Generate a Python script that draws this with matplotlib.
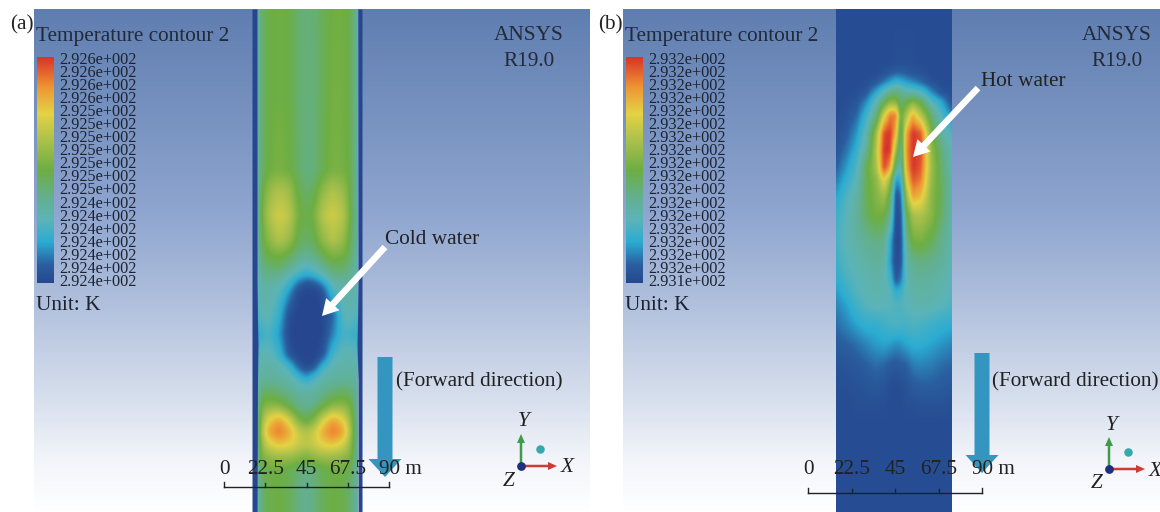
import numpy as np
import matplotlib
matplotlib.use("Agg")
import matplotlib.pyplot as plt
from matplotlib.colors import LinearSegmentedColormap
from matplotlib.patches import Rectangle

plt.rcParams['font.family'] = ['Liberation Serif', 'DejaVu Serif']

# colorbar labels
labels_a = ["2.926e+002"] * 4 + ["2.925e+002"] * 7 + ["2.924e+002"] * 7
labels_b = ["2.932e+002"] * 17 + ["2.931e+002"]
tick_labels = ["0", "22.5", "45", "67.5"]

# sample positions of the two fields (image pixels), values are 0-1 on the colour scale
x_a = [257, 260, 268, 279, 290, 298, 306, 314, 322, 333, 344, 352, 358]
y_a = [9, 100, 170, 190, 215, 240, 258, 270, 278, 285, 295, 315, 335, 355, 365, 372, 380, 392, 405, 420, 432, 445,
       458, 470, 490, 512]
field_a = [
    [.30, .43, .49, .51, .49, .43, .41, .42, .46, .51, .51, .47, .32],
    [.30, .43, .49, .51, .49, .43, .41, .41, .46, .52, .51, .47, .32],
    [.30, .43, .50, .53, .50, .44, .40, .41, .47, .53, .52, .47, .32],
    [.30, .46, .58, .64, .60, .48, .43, .46, .57, .64, .59, .47, .32],
    [.30, .48, .64, .71, .66, .52, .48, .52, .65, .71, .65, .48, .32],
    [.30, .46, .56, .65, .59, .47, .44, .47, .57, .65, .59, .45, .32],
    [.28, .42, .48, .50, .44, .38, .35, .38, .44, .52, .50, .42, .30],
    [.26, .38, .41, .42, .35, .28, .24, .27, .33, .43, .42, .38, .30],
    [.26, .36, .37, .35, .26, .18, .14, .16, .24, .36, .38, .35, .30],
    [.25, .33, .33, .30, .20, .08, .02, .03, .10, .28, .33, .33, .28],
    [.25, .32, .32, .26, .12, .01, .00, .00, .02, .22, .32, .32, .28],
    [.24, .28, .30, .20, .02, .00, .00, .00, .00, .08, .28, .30, .25],
    [.20, .20, .25, .16, .00, .00, .00, .00, .00, .13, .24, .22, .20],
    [.25, .30, .30, .22, .04, .00, .00, .00, .03, .24, .30, .30, .27],
    [.28, .32, .33, .30, .20, .06, .00, .02, .18, .30, .32, .32, .30],
    [.30, .33, .34, .32, .27, .16, .08, .14, .26, .32, .33, .33, .32],
    [.32, .35, .36, .35, .32, .26, .20, .26, .32, .35, .36, .35, .32],
    [.32, .42, .45, .42, .37, .34, .33, .34, .37, .42, .45, .42, .33],
    [.32, .50, .56, .54, .45, .38, .36, .38, .45, .55, .56, .50, .33],
    [.32, .56, .75, .84, .70, .54, .47, .54, .70, .84, .75, .56, .33],
    [.32, .60, .84, .92, .82, .70, .64, .70, .82, .92, .84, .60, .33],
    [.32, .56, .71, .78, .75, .70, .67, .70, .75, .78, .71, .56, .33],
    [.32, .52, .57, .59, .59, .57, .52, .57, .59, .59, .57, .52, .33],
    [.32, .46, .50, .50, .47, .42, .40, .42, .47, .50, .50, .46, .33],
    [.28, .42, .48, .50, .46, .40, .37, .40, .46, .50, .48, .42, .32],
    [.28, .42, .48, .50, .46, .40, .37, .40, .46, .50, .48, .42, .32],
]

x_b = [836, 846, 856, 866, 876, 884, 890, 896, 901, 906, 913, 921, 932, 942, 952]
y_b = [9, 62, 72, 82, 92, 102, 115, 133, 150, 167, 180, 195, 215, 240, 262, 280, 292, 305, 325, 345, 365, 385, 405,
       425, 512]
field_b = [
    [.02, .02, .02, .02, .02, .02, .02, .02, .02, .02, .02, .02, .02, .02, .02],
    [.02, .02, .02, .02, .02, .02, .02, .03, .03, .03, .03, .02, .02, .02, .02],
    [.02, .02, .02, .02, .02, .04, .06, .08, .08, .07, .05, .04, .02, .02, .02],
    [.02, .02, .02, .03, .06, .12, .17, .22, .20, .17, .14, .10, .04, .02, .02],
    [.02, .02, .03, .06, .18, .30, .38, .42, .38, .32, .32, .27, .14, .05, .03],
    [.02, .03, .05, .14, .30, .46, .58, .56, .42, .48, .56, .47, .28, .18, .05],
    [.02, .04, .09, .22, .40, .72, .90, .90, .48, .62, .82, .66, .42, .26, .14],
    [.03, .07, .15, .30, .60, .97, 1.0, .80, .38, .82, 1.0, .95, .52, .34, .25],
    [.05, .11, .20, .36, .65, 1.0, 1.0, .60, .34, .85, 1.0, .97, .58, .40, .30],
    [.08, .16, .25, .47, .62, .98, .85, .40, .28, .82, 1.0, .95, .60, .44, .30],
    [.12, .20, .28, .47, .57, .75, .60, .15, .20, .72, .95, .90, .58, .45, .32],
    [.17, .25, .32, .47, .55, .62, .48, .04, .10, .58, .85, .80, .56, .46, .32],
    [.22, .28, .35, .45, .52, .50, .38, .02, .05, .45, .62, .64, .56, .44, .32],
    [.24, .29, .33, .37, .40, .38, .20, .01, .03, .36, .52, .53, .47, .38, .31],
    [.22, .27, .30, .33, .35, .33, .17, .02, .05, .30, .38, .40, .38, .35, .30],
    [.19, .24, .28, .30, .32, .30, .24, .06, .12, .28, .34, .35, .34, .32, .28],
    [.16, .21, .26, .29, .31, .30, .28, .20, .22, .29, .32, .33, .32, .30, .27],
    [.13, .17, .23, .27, .29, .28, .28, .26, .26, .28, .30, .31, .30, .28, .25],
    [.10, .13, .17, .20, .20, .22, .24, .25, .24, .24, .25, .24, .22, .20, .19],
    [.07, .08, .10, .13, .16, .17, .16, .14, .15, .17, .19, .19, .17, .15, .13],
    [.04, .05, .06, .08, .10, .09, .07, .06, .07, .08, .12, .13, .12, .10, .09],
    [.03, .03, .04, .05, .06, .05, .03, .02, .03, .04, .07, .08, .08, .07, .06],
    [.02, .02, .03, .03, .03, .03, .02, .02, .02, .03, .03, .04, .04, .04, .03],
    [.02, .02, .02, .02, .02, .02, .02, .02, .02, .02, .02, .02, .02, .02, .02],
    [.02, .02, .02, .02, .02, .02, .02, .02, .02, .02, .02, .02, .02, .02, .02],
]

# ansys rainbow
cmap = LinearSegmentedColormap.from_list("ansys", [
    (0.00, "#26478f"), (0.08, "#2a5fa0"), (0.18, "#2bacd2"), (0.28, "#5cb4b8"),
    (0.38, "#63b08e"), (0.50, "#6dae42"), (0.62, "#a6bf4c"), (0.75, "#e4d344"),
    (0.87, "#ee9433"), (1.00, "#d8342a"),
])
bg_cmap = LinearSegmentedColormap.from_list("bg", [
    (0.00, "#5f7eb0"), (0.40, "#8ea5cf"), (0.58, "#afbfdc"), (0.78, "#d8e0ee"),
    (0.90, "#f3f5fa"), (1.00, "#ffffff"),
])

fig = plt.figure(figsize=(11.6, 5.12), dpi=100)
ax = fig.add_axes([0, 0, 1, 1])
grad = np.linspace(0, 1, 256).reshape(-1, 1)
FS = 15.3
DARK = "#222a38"


def smooth(a, n):
    # small box blur down each column
    k = np.ones(n) / n
    p = np.pad(a, ((n, n), (0, 0)), mode='edge')
    return np.apply_along_axis(lambda c: np.convolve(c, k, mode='same'), 0, p)[n:-n]


def fine_field(xs, ys, field, blur):
    # samples sit on an uneven grid, so put them on a pixel grid before imshow
    field = np.array(field)
    px = np.arange(xs[0], xs[-1] + 1)
    py = np.arange(ys[0], ys[-1] + 1)
    tmp = np.array([np.interp(py, ys, field[:, j]) for j in range(field.shape[1])]).T
    out = np.array([np.interp(px, xs, tmp[i]) for i in range(tmp.shape[0])])
    out = smooth(smooth(out, blur[0]), blur[1])
    out = smooth(smooth(out.T, blur[2]), blur[3]).T
    return out


def panel(x0, x1, xs, ys, field, blur, strip0, strip1, labels, letter, letter_x, hot_text, hot_xy, arrow_xy, arr_x, arr_top, bar, origin):
    ax.imshow(grad, extent=(x0, x1, 512, 9), cmap=bg_cmap, aspect='auto', zorder=0)

    im = ax.imshow(fine_field(xs, ys, field, blur), extent=(xs[0], xs[-1], ys[-1], ys[0]), cmap=cmap, vmin=0, vmax=1,
                   aspect='auto', interpolation='bilinear', zorder=1)
    im.set_clip_path(Rectangle((strip0, 9), strip1 - strip0, 503, transform=ax.transData))

    # legend
    ax.text(x0 + 2, 37, "Temperature contour 2", fontsize=FS, va='center', color=DARK)
    ax.imshow(grad[::-1], extent=(x0 + 2.5, x0 + 19.5, 283, 57), cmap=cmap, aspect='auto', zorder=2)
    for i in range(len(labels)):
        ax.text(x0 + 25.5, 60 + i * 13.05, labels[i], fontsize=11.7, va='center', color="#1c2230", zorder=3)
    ax.text(x0 + 2, 306, "Unit: K", fontsize=FS, va='center', color="#1c2230")
    ax.text(letter_x, 25, letter, fontsize=FS, va='center', color="#222222")

    ax.text(origin[0] + 8, 35, "ANSYS", fontsize=FS, ha='center', va='center', color=DARK)
    ax.text(origin[0] + 8, 62, "R19.0", fontsize=FS, ha='center', va='center', color=DARK)

    # callout
    ax.text(hot_xy[0], hot_xy[1], hot_text, fontsize=FS, va='center', color="#222222", zorder=5)
    ax.arrow(arrow_xy[0], arrow_xy[1], arrow_xy[2] - arrow_xy[0], arrow_xy[3] - arrow_xy[1], width=6.5, head_width=18,
             head_length=16, length_includes_head=True, fc="white", ec="none", zorder=4)

    # forward direction
    ax.arrow(arr_x, arr_top, 0, 120, width=15, head_width=33, head_length=18, length_includes_head=True,
             fc="#3496c0", ec="none", zorder=2)
    ax.text(arr_x + 10.5, 382, "(Forward direction)", fontsize=FS, va='center', color="#222222", zorder=5)

    # scale bar
    y = bar[1]
    ticks = np.linspace(bar[0], bar[2], 5)
    ax.plot([bar[0], bar[2]], [y, y], color="#222222", lw=1, zorder=5)
    for i in range(5):
        h = 5 if i in (0, 4) else 4
        ax.plot([ticks[i], ticks[i]], [y, y - h], color="#222222", lw=1, zorder=5)
    for i in range(4):
        ax.text(ticks[i], 470, tick_labels[i], fontsize=FS, ha='center', va='center', color="#222222", zorder=5)
    ax.text(ticks[4] - 10, 470, "90 m", fontsize=FS, ha='left', va='center', color="#222222", zorder=5)

    # triad
    ox, oy = origin
    ax.arrow(ox, oy, 0, -32, width=2.5, head_width=8, head_length=9, length_includes_head=True, fc="#3f9a4a", ec="none", zorder=3)
    ax.arrow(ox, oy, 36, 0, width=2.5, head_width=8, head_length=9, length_includes_head=True, fc="#d03a34", ec="none", zorder=3)
    ax.scatter([ox], [oy], s=28, color="#1f2f80", zorder=4)
    ax.scatter([ox + 18.5], [oy - 17], s=26, color="#35a8ae", zorder=4)
    ax.text(ox + 3, oy - 44, "Y", fontsize=FS, style='italic', ha='center', va='center', color="#222222")
    ax.text(ox + 46, oy + 2, "X", fontsize=FS, style='italic', ha='center', va='center', color="#222222")
    ax.text(ox - 12, oy + 15, "Z", fontsize=FS, style='italic', ha='center', va='center', color="#222222")


panel(34, 590, x_a, y_a, field_a, (9, 7, 7, 5), 252, 362, labels_a, "(a)", 10, "Cold water", (385, 240), (385, 247, 322, 316),
      385, 357, (224, 487, 389), (521, 466))
panel(623, 1160, x_b, y_b, field_b, (5, 3, 3, 3), 836, 952, labels_b, "(b)", 598, "Hot water", (981, 82), (978, 88, 913, 157),
      982, 353, (808, 493, 982), (1109, 469))

# walls of the strip in panel a
wall_y = [9, 280, 320, 345, 380, 512]
wall_l = [257, 257, 257.5, 258, 257.5, 257]
wall_r = [358, 358, 357.5, 357, 358, 358]
ax.fill_betweenx(wall_y, 252, wall_l, color="#26478f", lw=0, zorder=2)
ax.fill_betweenx(wall_y, wall_r, 362, color="#26478f", lw=0, zorder=2)

ax.set_xlim(0, 1160)
ax.set_ylim(512, 0)
ax.axis("off")
fig.savefig("out.png", dpi=100, facecolor="white")
